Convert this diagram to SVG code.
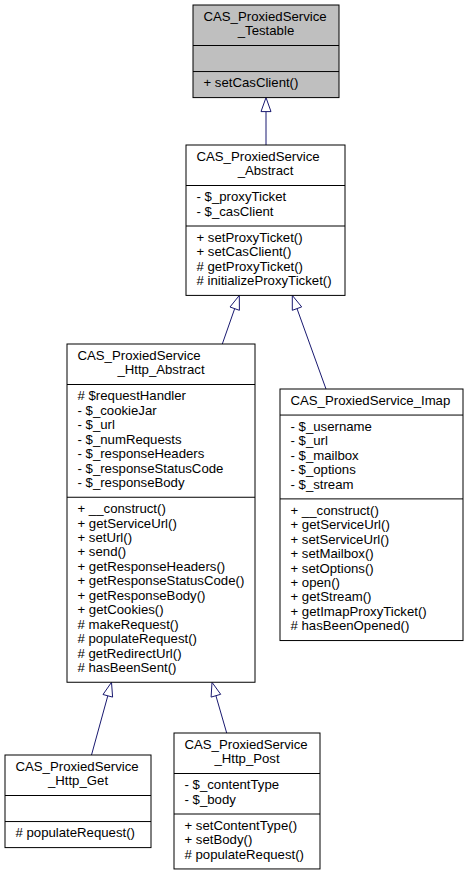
<svg xmlns="http://www.w3.org/2000/svg" width="467" height="875" viewBox="0 0 467 875">
<style>
.box{fill:#ffffff;stroke:#000000;stroke-width:1}
.grey{fill:#bfbfbf}
.div{stroke:#000000;stroke-width:1}
text{font-family:"Liberation Sans",Arial,Helvetica,sans-serif;font-size:13.2px;fill:#000000}
.c{text-anchor:middle}
.edge{stroke:#191970;stroke-width:1;fill:none}
.head{stroke:#191970;stroke-width:1;fill:#ffffff}
</style>
<rect width="467" height="875" fill="#ffffff"/>
<g id="edges">
<line class="edge" x1="266" y1="145" x2="266" y2="111.6"/>
<polygon class="head" points="266,97.6 271,111.6 261,111.6"/>
<line class="edge" x1="222.3" y1="344" x2="234.7" y2="308.6"/>
<polygon class="head" points="239.3,295.4 239.4,310.3 230,307"/>
<line class="edge" x1="326" y1="389" x2="297" y2="308.6"/>
<polygon class="head" points="292.3,295.4 301.7,306.9 292.3,310.3"/>
<line class="edge" x1="91.5" y1="755" x2="107.8" y2="695.8"/>
<polygon class="head" points="111.5,682.3 112.6,697.1 103,694.5"/>
<line class="edge" x1="226.7" y1="733" x2="215.9" y2="695.7"/>
<polygon class="head" points="212,682.3 220.7,694.3 211.1,697.1"/>
</g>
<g id="node-testable">
<rect class="box grey" x="193" y="5" width="146" height="92.6"/>
<line class="div" x1="193" y1="45.5" x2="339" y2="45.5"/>
<line class="div" x1="193" y1="71.55" x2="339" y2="71.55"/>
<text x="203.5" y="20.8">CAS_ProxiedService</text>
<text class="c" x="266" y="35.25">_Testable</text>
<text x="203.5" y="87.35">+ setCasClient()</text>
</g>
<g id="node-abstract">
<rect class="box" x="186" y="145" width="159" height="150.4"/>
<line class="div" x1="186" y1="185.5" x2="345" y2="185.5"/>
<line class="div" x1="186" y1="226" x2="345" y2="226"/>
<text x="196.5" y="160.8">CAS_ProxiedService</text>
<text class="c" x="265.5" y="175.25">_Abstract</text>
<text x="196.5" y="201.3">- $_proxyTicket</text>
<text x="196.5" y="215.75">- $_casClient</text>
<text x="196.5" y="241.8">+ setProxyTicket()</text>
<text x="196.5" y="256.25">+ setCasClient()</text>
<text x="196.5" y="270.7"># getProxyTicket()</text>
<text x="196.5" y="285.15"># initializeProxyTicket()</text>
</g>
<g id="node-http-abstract">
<rect class="box" x="67" y="344" width="188" height="338.25"/>
<line class="div" x1="67" y1="384.5" x2="255" y2="384.5"/>
<line class="div" x1="67" y1="497.25" x2="255" y2="497.25"/>
<text x="77.5" y="359.8">CAS_ProxiedService</text>
<text class="c" x="161" y="374.25">_Http_Abstract</text>
<text x="77.5" y="400.3"># $requestHandler</text>
<text x="77.5" y="414.75">- $_cookieJar</text>
<text x="77.5" y="429.2">- $_url</text>
<text x="77.5" y="443.65">- $_numRequests</text>
<text x="77.5" y="458.1">- $_responseHeaders</text>
<text x="77.5" y="472.55">- $_responseStatusCode</text>
<text x="77.5" y="487">- $_responseBody</text>
<text x="77.5" y="513.05">+ __construct()</text>
<text x="77.5" y="527.5">+ getServiceUrl()</text>
<text x="77.5" y="541.95">+ setUrl()</text>
<text x="77.5" y="556.4">+ send()</text>
<text x="77.5" y="570.85">+ getResponseHeaders()</text>
<text x="77.5" y="585.3">+ getResponseStatusCode()</text>
<text x="77.5" y="599.75">+ getResponseBody()</text>
<text x="77.5" y="614.2">+ getCookies()</text>
<text x="77.5" y="628.65"># makeRequest()</text>
<text x="77.5" y="643.1"># populateRequest()</text>
<text x="77.5" y="657.55"># getRedirectUrl()</text>
<text x="77.5" y="672"># hasBeenSent()</text>
</g>
<g id="node-imap">
<rect class="box" x="280" y="389" width="183" height="251.55"/>
<line class="div" x1="280" y1="415.05" x2="463" y2="415.05"/>
<line class="div" x1="280" y1="498.9" x2="463" y2="498.9"/>
<text x="290.5" y="404.8">CAS_ProxiedService_Imap</text>
<text x="290.5" y="430.85">- $_username</text>
<text x="290.5" y="445.3">- $_url</text>
<text x="290.5" y="459.75">- $_mailbox</text>
<text x="290.5" y="474.2">- $_options</text>
<text x="290.5" y="488.65">- $_stream</text>
<text x="290.5" y="514.7">+ __construct()</text>
<text x="290.5" y="529.15">+ getServiceUrl()</text>
<text x="290.5" y="543.6">+ setServiceUrl()</text>
<text x="290.5" y="558.05">+ setMailbox()</text>
<text x="290.5" y="572.5">+ setOptions()</text>
<text x="290.5" y="586.95">+ open()</text>
<text x="290.5" y="601.4">+ getStream()</text>
<text x="290.5" y="615.85">+ getImapProxyTicket()</text>
<text x="290.5" y="630.3"># hasBeenOpened()</text>
</g>
<g id="node-http-get">
<rect class="box" x="5" y="755" width="146" height="92.6"/>
<line class="div" x1="5" y1="795.5" x2="151" y2="795.5"/>
<line class="div" x1="5" y1="821.55" x2="151" y2="821.55"/>
<text x="15.5" y="770.8">CAS_ProxiedService</text>
<text class="c" x="78" y="785.25">_Http_Get</text>
<text x="15.5" y="837.35"># populateRequest()</text>
</g>
<g id="node-http-post">
<rect class="box" x="174" y="733" width="146" height="135.95"/>
<line class="div" x1="174" y1="773.5" x2="320" y2="773.5"/>
<line class="div" x1="174" y1="814" x2="320" y2="814"/>
<text x="184.5" y="748.8">CAS_ProxiedService</text>
<text class="c" x="247" y="763.25">_Http_Post</text>
<text x="184.5" y="789.3">- $_contentType</text>
<text x="184.5" y="803.75">- $_body</text>
<text x="184.5" y="829.8">+ setContentType()</text>
<text x="184.5" y="844.25">+ setBody()</text>
<text x="184.5" y="858.7"># populateRequest()</text>
</g>
</svg>
